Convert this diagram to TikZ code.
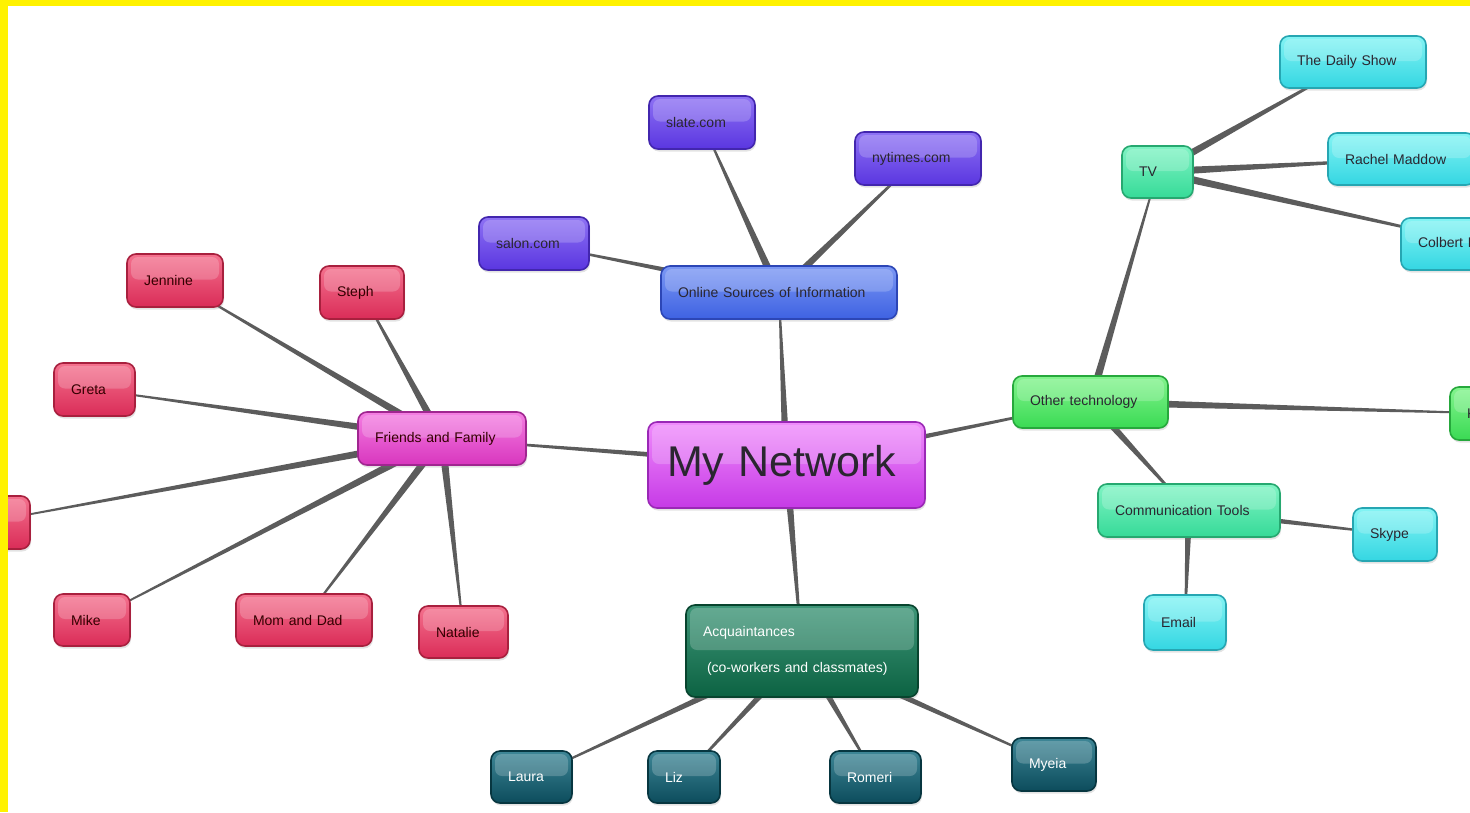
\documentclass[tikz,border=0pt]{standalone}
\usepackage{fontspec}
\setmainfont{Liberation Sans}
\usetikzlibrary{calc,shadows}
\pgfdeclarelayer{bg}\pgfdeclarelayer{edges}\pgfdeclarelayer{fg}
\pgfsetlayers{bg,edges,main,fg}
\definecolor{txtdark}{HTML}{2A2630}
\definecolor{edgec}{HTML}{5C5C5C}
\definecolor{redT}{HTML}{F4728E}\definecolor{redB}{HTML}{DA2C58}\definecolor{redD}{HTML}{A8203E}
\definecolor{friT}{HTML}{F47EE2}\definecolor{friB}{HTML}{D836BE}\definecolor{friD}{HTML}{A02690}
\definecolor{mynT}{HTML}{F08CFC}\definecolor{mynB}{HTML}{C63AE6}\definecolor{mynD}{HTML}{9A28B6}
\definecolor{onlT}{HTML}{7C98F4}\definecolor{onlB}{HTML}{3E62E2}\definecolor{onlD}{HTML}{2C46B6}
\definecolor{purT}{HTML}{8E72F4}\definecolor{purB}{HTML}{5A36E0}\definecolor{purD}{HTML}{4226AE}
\definecolor{tvT}{HTML}{80F4C4}\definecolor{tvB}{HTML}{36DA98}\definecolor{tvD}{HTML}{26A870}
\definecolor{otT}{HTML}{84F48E}\definecolor{otB}{HTML}{3ADA54}\definecolor{otD}{HTML}{26A83C}
\definecolor{cyT}{HTML}{84F4F4}\definecolor{cyB}{HTML}{34D6E2}\definecolor{cyD}{HTML}{26A6B2}
\definecolor{acqT}{HTML}{3E9678}\definecolor{acqB}{HTML}{0C6242}\definecolor{acqD}{HTML}{08442E}
\definecolor{dtT}{HTML}{3E8696}\definecolor{dtB}{HTML}{0C4C5C}\definecolor{dtD}{HTML}{073640}
\newcommand\mmlink[3][4]{\fill[edgec] ($(#2)!#1pt!90:(#3)$) -- ($(#3)!0.6pt!-90:(#2)$) -- ($(#3)!0.6pt!90:(#2)$) -- ($(#2)!#1pt!-90:(#3)$) -- cycle;}
\tikzset{
  mmbox/.style={rounded corners=9pt, line width=1.6pt, inner xsep=17pt, inner ysep=0pt, align=left,
    font=\fontsize{14}{17}\selectfont, text=txtdark,
    drop shadow={opacity=0.22,shadow xshift=1pt,shadow yshift=-2.5pt},
    path picture={\fill[white,opacity=0.2,rounded corners=7pt]
      ([xshift=4pt,yshift=-3pt]path picture bounding box.north west) rectangle
      ([xshift=-4pt,yshift=1pt]path picture bounding box.east);}},
  sz/.style 2 args={minimum width=#1pt, minimum height=#2pt, text width=#1pt-34pt},
  redbox/.style={mmbox, draw=redD, top color=redT, bottom color=redB, text=black!80!red},
  fribox/.style={mmbox, draw=friD, top color=friT, bottom color=friB, text=black!80!red},
  mynbox/.style={mmbox, draw=mynD, top color=mynT, bottom color=mynB},
  onlbox/.style={mmbox, draw=onlD, top color=onlT, bottom color=onlB},
  purbox/.style={mmbox, draw=purD, top color=purT, bottom color=purB},
  tvbox/.style={mmbox, draw=tvD, top color=tvT, bottom color=tvB},
  otbox/.style={mmbox, draw=otD, top color=otT, bottom color=otB},
  cybox/.style={mmbox, draw=cyD, top color=cyT, bottom color=cyB},
  acqbox/.style={mmbox, draw=acqD, top color=acqT, bottom color=acqB, text=white},
  dtbox/.style={mmbox, draw=dtD, top color=dtT, bottom color=dtB, text=white},
}
\begin{document}
\begin{tikzpicture}[x=1pt,y=-1pt]
\useasboundingbox (0,0) rectangle (1470,812);
\begin{pgfonlayer}{bg}
  \fill[white] (0,0) rectangle (1470,812);
\end{pgfonlayer}
% center
\node[mynbox, sz={277}{86}, inner xsep=19pt, text width=239pt, font=\fontsize{43}{50}\selectfont] (mynet) at (786.5,465) {My Network};
% online sources
\node[onlbox, sz={236}{53}] (online) at (779,292.5) {Online Sources of Information};
\node[purbox, sz={106}{53}] (slate) at (702,122.5) {slate.com};
\node[purbox, sz={126}{53}] (nyt) at (918,158.5) {nytimes.com};
\node[purbox, sz={110}{53}] (salon) at (534,243.5) {salon.com};
% friends and family
\node[fribox, sz={168}{53}] (friends) at (442,438.5) {Friends and Family};
\node[redbox, sz={96}{53}] (jennine) at (175,280.5) {Jennine};
\node[redbox, sz={84}{53}] (steph) at (362,292.5) {Steph};
\node[redbox, sz={81}{53}] (greta) at (94.5,389.5) {Greta};
\node[redbox, sz={90}{53}] (leftcut) at (-15,522.5) {};
\node[redbox, sz={76}{52}] (mike) at (92,620) {Mike};
\node[redbox, sz={136}{52}] (momdad) at (304,620) {Mom and Dad};
\node[redbox, sz={89}{52}] (natalie) at (463.5,632) {Natalie};
% other technology
\node[otbox, sz={155}{52}] (othertech) at (1090.5,402) {Other technology};
\node[tvbox, sz={71}{52}] (tv) at (1157.5,172) {TV};
\node[cybox, sz={146}{52}] (daily) at (1353,62) {The Daily Show};
\node[cybox, sz={147}{52}] (rachel) at (1401.5,159) {Rachel Maddow};
\node[cybox, sz={158}{52}] (colbert) at (1480,244) {Colbert Report};
\node[otbox, sz={90}{53}] (kindle) at (1495,413.5) {Kindle};
\node[tvbox, sz={182}{53}] (comm) at (1189,510.5) {Communication Tools};
\node[cybox, sz={84}{53}] (skype) at (1395,534.5) {Skype};
\node[cybox, sz={82}{55}] (email) at (1185,622.5) {Email};
% acquaintances
\node[acqbox, sz={232}{92}] (acq) at (802,651) {Acquaintances\\[19pt]\hspace*{4pt}(co-workers and classmates)};
\node[dtbox, sz={81}{52}] (laura) at (531.5,777) {Laura};
\node[dtbox, sz={72}{52}] (liz) at (684,777) {Liz};
\node[dtbox, sz={91}{52}] (romeri) at (875.5,777) {Romeri};
\node[dtbox, sz={84}{53}] (myeia) at (1054,764.5) {Myeia};
% connectors
\begin{pgfonlayer}{edges}
  \mmlink[3.5]{mynet}{friends}
  \mmlink{mynet}{online}
  \mmlink{mynet}{acq}
  \mmlink[3.5]{mynet}{othertech}
  \mmlink{online}{slate}
  \mmlink{online}{nyt}
  \mmlink[3.5]{online}{salon}
  \mmlink{friends}{jennine}
  \mmlink{friends}{steph}
  \mmlink{friends}{greta}
  \mmlink{friends}{leftcut}
  \mmlink{friends}{mike}
  \mmlink{friends}{momdad}
  \mmlink{friends}{natalie}
  \mmlink{othertech}{tv}
  \mmlink{othertech}{kindle}
  \mmlink{othertech}{comm}
  \mmlink{tv}{daily}
  \mmlink{tv}{rachel}
  \mmlink{tv}{colbert}
  \mmlink[3.5]{comm}{skype}
  \mmlink[3.5]{comm}{email}
  \mmlink{acq}{laura}
  \mmlink{acq}{liz}
  \mmlink{acq}{romeri}
  \mmlink{acq}{myeia}
\end{pgfonlayer}
\begin{pgfonlayer}{fg}
  \fill[yellow] (0,0) rectangle (1470,6);
  \fill[yellow] (0,0) rectangle (8,812);
\end{pgfonlayer}
\end{tikzpicture}
\end{document}
